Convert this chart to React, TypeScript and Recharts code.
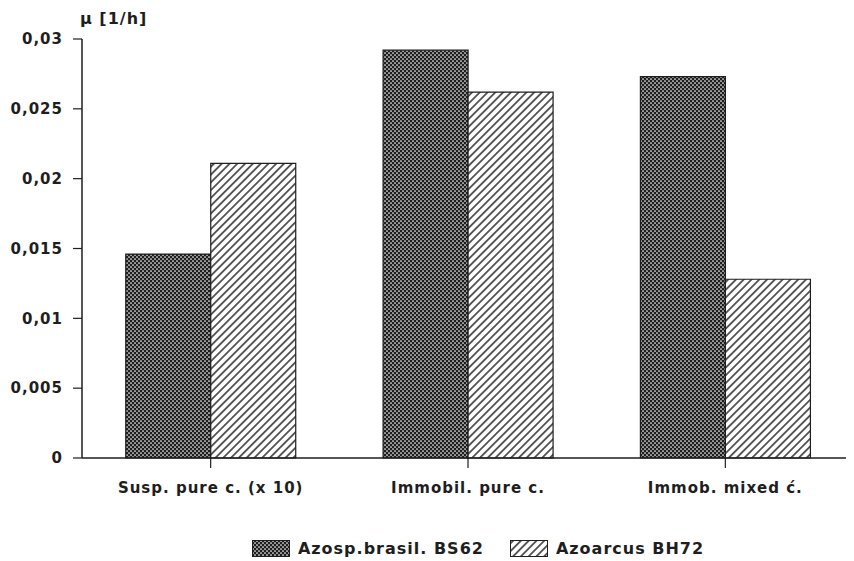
import React from 'react';
import { BarChart, Bar, XAxis, YAxis, Legend } from 'recharts';

const categories = ['Susp. pure c. (x 10)', 'Immobil. pure c.', 'Immob. mixed c\u0301.'];
const azospValues = [0.0146, 0.0292, 0.0273];
const azoarcusValues = [0.0211, 0.0262, 0.0128];
const yTicks = [0, 0.005, 0.01, 0.015, 0.02, 0.025, 0.03];
const seriesNames = ['Azosp.brasil. BS62', 'Azoarcus BH72'];

const data = categories.map((c, i) => ({
  name: c,
  azosp: azospValues[i],
  azoarcus: azoarcusValues[i],
}));

const FONT = '"DejaVu Sans", "Liberation Sans", Arial, sans-serif';

const fmt = (v: number) => (v === 0 ? '0' : String(v).replace('.', ','));

const Patterns = () => (
  <defs>
    <pattern id="dots" width="4" height="4" patternUnits="userSpaceOnUse">
      <rect width="4" height="4" fill="#1e1e1e" />
      <circle cx="1" cy="1" r="0.85" fill="#ffffff" />
      <circle cx="3" cy="3" r="0.85" fill="#ffffff" />
    </pattern>
    <pattern id="hatch" width="5.5" height="5.5" patternUnits="userSpaceOnUse" patternTransform="rotate(-45)">
      <rect width="5.5" height="5.5" fill="#ffffff" />
      <line x1="0" y1="2.75" x2="5.5" y2="2.75" stroke="#1e1e1e" strokeWidth="1.4" />
    </pattern>
  </defs>
);

const LegendContent = () => (
  <div
    style={{
      display: 'flex',
      justifyContent: 'center',
      alignItems: 'center',
      paddingTop: 21,
      fontFamily: FONT,
      fontWeight: 'bold',
      fontSize: 16,
      letterSpacing: 1,
      color: '#1e1e1e',
      marginLeft: 94,
      whiteSpace: 'nowrap',
    }}
  >
    <svg width="38" height="17" style={{ marginRight: 8 }}>
      <rect x="0.5" y="0.5" width="37" height="16" fill="url(#dots)" stroke="#1e1e1e" />
    </svg>
    <span style={{ marginRight: 26 }}>{seriesNames[0]}</span>
    <svg width="38" height="17" style={{ marginRight: 8 }}>
      <rect x="0.5" y="0.5" width="37" height="16" fill="url(#hatch)" stroke="#1e1e1e" />
    </svg>
    <span>{seriesNames[1]}</span>
  </div>
);

const tickStyle = { fill: '#1e1e1e', fontFamily: FONT, fontWeight: 'bold', fontSize: 15, letterSpacing: 1 };

export default function App() {
  return (
    <BarChart
      width={846}
      height={553}
      data={data}
      margin={{ top: 31, right: 0, left: 0, bottom: 0 }}
      barCategoryGap="17%"
      barGap={0}
    >
      <Patterns />
      <XAxis
        dataKey="name"
        axisLine={{ stroke: '#1e1e1e', strokeWidth: 1.5 }}
        tickLine={{ stroke: '#1e1e1e', strokeWidth: 1.2 }}
        tickSize={10}
        tickMargin={14}
        height={60}
        interval={0}
        tick={tickStyle}
      />
      <YAxis
        width={74}
        domain={[0, 0.03]}
        ticks={yTicks}
        tickFormatter={fmt}
        axisLine={{ stroke: '#1e1e1e', strokeWidth: 1.5 }}
        tickLine={{ stroke: '#1e1e1e', strokeWidth: 1.2 }}
        tickSize={9}
        tickMargin={10}
        tick={tickStyle}
        label={{
          content: () => (
            <text x={72} y={16} fill="#1e1e1e" fontFamily={FONT} fontWeight="bold" fontSize={16} letterSpacing={1}>
              µ [1/h]
            </text>
          ),
        }}
      />
      <Legend verticalAlign="bottom" height={43} content={<LegendContent />} />
      <Bar dataKey="azosp" name={seriesNames[0]} fill="url(#dots)" stroke="#1e1e1e" strokeWidth={1.2} isAnimationActive={false} />
      <Bar dataKey="azoarcus" name={seriesNames[1]} fill="url(#hatch)" stroke="#1e1e1e" strokeWidth={1.2} isAnimationActive={false} />
    </BarChart>
  );
}
